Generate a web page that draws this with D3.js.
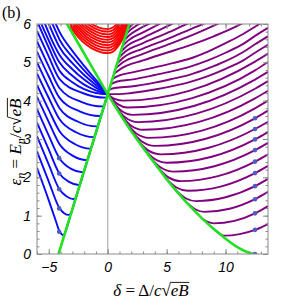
<!DOCTYPE html>
<html>
<head>
<meta charset="utf-8">
<script src="https://cdn.jsdelivr.net/npm/d3@7"></script>
<style>
  body { margin: 0; background: #fff; }
  svg { display: block; font-family: "Liberation Serif", "DejaVu Serif", serif; }
  .tick text { font-size: 14px; font-style: italic; fill: #000; }
</style>
</head>
<body>
<svg id="chart" width="291" height="301"></svg>
<script>
// axis ranges and tick labels
const xDomain = [-6, 13.6];
const yDomain = [0, 6];
const xTicks = [-5, 0, 5, 10];
const yTicks = [0, 1, 2, 3, 4, 5, 6];

// blue levels (left region), [delta, epsilon]
const blueLevels = [
  [[-6,2.25],[-5,1.4],[-4.4,0.86],[-4.1,0.6],[-3.92,0.52],[-3.75,0.49],[-3.6,0.57],[-3.2,0.97]],
  [[-6,2.68],[-5,1.89],[-4.1,1.2],[-3.7,1.065],[-3.3,1.02],[-3.12,1.06],[-2.95,1.22],[-2.6,1.57]],
  [[-6,3.07],[-5,2.33],[-4.1,1.69],[-3.48,1.5],[-2.85,1.43],[-2.68,1.49],[-2.5,1.67],[-2.2,1.97]],
  [[-6,3.43],[-5,2.72],[-4.1,2.1],[-3.28,1.88],[-2.45,1.8],[-2.32,1.85],[-2.1,2.07],[-1.8,2.37]],
  [[-6,3.78],[-5,3.09],[-4.1,2.5],[-3.1,2.22],[-2.1,2.13],[-1.98,2.19],[-1.75,2.42],[-1.45,2.72]],
  [[-6,4.1],[-5,3.44],[-4.1,2.87],[-2.95,2.56],[-1.8,2.45],[-1.68,2.49],[-1.45,2.72],[-1.15,3.02]],
  [[-6,4.41],[-5,3.76],[-4.1,3.21],[-2.8,2.87],[-1.5,2.75],[-1.38,2.79],[-1.15,3.02],[-0.85,3.32]],
  [[-6,4.71],[-5,4.07],[-4.1,3.52],[-2.65,3.17],[-1.2,3.05],[-1.08,3.09],[-0.85,3.32],[-0.55,3.62]],
  [[-6,5.0],[-5,4.35],[-4.1,3.81],[-2.51,3.45],[-0.92,3.33],[-0.8,3.37],[-0.6,3.57],[-0.3,3.87]],
  [[-6,5.28],[-5,4.63],[-4.1,4.08],[-2.38,3.72],[-0.65,3.6],[-0.53,3.64],[-0.35,3.82],[-0.1,4.07]],
  [[-6,5.55],[-5,4.89],[-4.1,4.33],[-2.25,3.97],[-0.4,3.85],[-0.28,3.89],[-0.1,4.07],[0,4.17]],
  [[-6,5.82],[-5,5.15],[-4.1,4.57],[-2.14,4.2],[-0.18,4.08],[-0.08,4.1],[0,4.17]],
  [[-6,6.08],[-5,5.38],[-4.1,4.79],[-3,4.48],[-2,4.3],[-1,4.2],[0,4.17]],
  [[-5.8,6.12],[-5,5.57],[-4.1,5.0],[-3,4.65],[-2,4.42],[-1,4.27],[0,4.17]],
  [[-5.5,6.14],[-4.8,5.62],[-4.1,5.2],[-3,4.82],[-2,4.55],[-1,4.34],[0,4.17]],
  [[-5.2,6.15],[-4.6,5.72],[-4.1,5.4],[-3,4.98],[-2,4.67],[-1,4.41],[0,4.17]],
  [[-4.9,6.15],[-4.5,5.87],[-4.1,5.6],[-3,5.14],[-2,4.79],[-1,4.48],[0,4.17]],
  [[-4.6,6.12],[-4.3,5.93],[-4.1,5.8],[-3,5.3],[-2,4.91],[-1,4.54],[0,4.17]]
];

// red levels (upper wedge)
const redLevels = [
  [[-3.2,5.93],[-2.5,5.66],[-1.8,5.46],[-1,5.31],[-0.4,5.25],[0.05,5.24],[0.5,5.29],[1,5.47],[1.5,5.77],[2,6.19]],
  [[-3.2,6.0],[-2.5,5.73],[-1.8,5.53],[-1,5.38],[-0.4,5.32],[0.05,5.31],[0.5,5.36],[1,5.54],[1.5,5.84],[2,6.26]],
  [[-3.2,6.07],[-2.5,5.8],[-1.8,5.6],[-1,5.45],[-0.4,5.39],[0.05,5.38],[0.5,5.43],[1,5.61],[1.5,5.91],[2,6.33]],
  [[-3.2,6.14],[-2.5,5.87],[-1.8,5.67],[-1,5.52],[-0.4,5.46],[0.05,5.45],[0.5,5.5],[1,5.68],[1.5,5.98],[2,6.4]],
  [[-3.2,6.21],[-2.5,5.94],[-1.8,5.74],[-1,5.59],[-0.4,5.53],[0.05,5.52],[0.5,5.57],[1,5.75],[1.5,6.05]],
  [[-2.5,6.01],[-1.8,5.81],[-1,5.66],[-0.4,5.6],[0.05,5.59],[0.5,5.64],[1,5.82],[1.5,6.12]],
  [[-2.5,6.08],[-1.8,5.88],[-1,5.73],[-0.4,5.67],[0.05,5.66],[0.5,5.71],[1,5.89],[1.5,6.19]],
  [[-2.5,6.15],[-1.8,5.95],[-1,5.8],[-0.4,5.74],[0.05,5.73],[0.5,5.78],[1,5.96],[1.5,6.26]],
  [[-1.8,6.02],[-1,5.87],[-0.4,5.81],[0.05,5.8],[0.5,5.85],[1,6.03]],
  [[-1.8,6.09],[-1,5.94],[-0.4,5.88],[0.05,5.87],[0.5,5.92],[1,6.1]]
];

// purple levels (right region)
const purpleLevels = [
  [[9.0,0.65],[9.5,0.53],[9.9,0.48],[11.2,0.52],[12.5,0.63],[13.6,0.78]],
  [[8.03,0.92],[8.5,0.835],[9.0,0.8],[10.75,0.865],[12.5,1.06],[13.6,1.25]],
  [[6.72,1.34],[7.46,1.16],[8.2,1.1],[10.35,1.18],[12.5,1.43],[13.6,1.62]],
  [[5.7,1.69],[6.6,1.455],[7.5,1.38],[10.0,1.48],[12.5,1.77],[13.6,1.96]],
  [[4.86,2.0],[5.83,1.735],[6.8,1.65],[9.65,1.765],[12.5,2.11],[13.6,2.3]],
  [[4.1,2.32],[5.15,2.0],[6.2,1.9],[9.35,2.03],[12.5,2.41],[13.6,2.6]],
  [[3.4,2.6],[4.5,2.255],[5.6,2.15],[9.05,2.29],[12.5,2.71],[13.6,2.9]],
  [[2.85,2.83],[3.93,2.49],[5.0,2.38],[8.75,2.53],[12.5,2.99],[13.6,3.18]],
  [[2.3,3.07],[3.4,2.71],[4.5,2.6],[8.5,2.765],[12.5,3.26],[13.6,3.45]],
  [[1.8,3.29],[2.9,2.935],[4.0,2.82],[8.25,3.0],[12.5,3.54],[13.6,3.74]],
  [[1.3,3.53],[2.4,3.15],[3.5,3.03],[8.0,3.22],[12.5,3.8],[13.6,4.0]],
  [[0.86,3.74],[1.93,3.36],[3.0,3.24],[7.75,3.445],[12.5,4.06],[13.6,4.26]],
  [[0.45,3.94],[1.5,3.56],[2.55,3.44],[7.52,3.66],[12.5,4.31],[13.6,4.51]],
  [[0.1,4.12],[1.1,3.75],[2.1,3.63],[7.3,3.86],[12.5,4.55],[13.6,4.75]],
  [[0,4.17],[0.85,3.91],[1.7,3.82],[7.1,4.06],[12.5,4.79],[13.6,5.01]],
  [[0,4.17],[0.65,4.04],[1.3,4.0],[6.9,4.255],[12.5,5.02],[13.6,5.23]],
  [[0,4.17],[1,4.17],[2,4.2],[4,4.29],[5.5,4.38],[7,4.49],[8.5,4.64],[10,4.83],[11.5,5.05],[12.5,5.25],[13.6,5.46]],
  [[0.12,4.29],[0.6,4.33],[2,4.37],[4,4.47],[5.5,4.57],[7,4.68],[8.5,4.84],[10,5.03],[11.5,5.27],[12.5,5.47],[13.6,5.68]],
  [[0.26,4.43],[0.8,4.5],[2,4.55],[4,4.67],[5.5,4.77],[7,4.89],[8.5,5.05],[10,5.25],[11.5,5.48],[12.5,5.69],[13.6,5.9]],
  [[0.4,4.57],[1,4.66],[2,4.73],[4,4.87],[5.5,4.98],[7,5.1],[8.5,5.28],[10,5.5],[11.5,5.74],[12.5,5.93],[13.6,6.14]],
  [[0.53,4.7],[1.2,4.85],[3,5.05],[5,5.25],[7,5.45],[9,5.68],[11,5.95],[11.5,6.03]],
  [[0.67,4.84],[1.3,5.0],[3,5.22],[5,5.45],[7,5.69],[9,5.96],[9.5,6.03]],
  [[0.8,4.97],[1.4,5.14],[3,5.36],[5,5.6],[7,5.86],[8,5.99],[8.5,6.06]],
  [[0.95,5.12],[1.5,5.28],[3,5.5],[5,5.76],[6.5,5.97],[7,6.04]],
  [[1.1,5.27],[1.6,5.42],[3,5.64],[4.5,5.86],[5.5,6.01]],
  [[1.25,5.42],[1.7,5.56],[3,5.78],[4,5.94],[4.5,6.02]],
  [[1.4,5.57],[1.8,5.7],[2.6,5.86],[3.4,5.99],[3.8,6.05]],
  [[1.55,5.72],[1.9,5.84],[2.4,5.95],[2.8,6.02]],
  [[1.7,5.87],[2.0,5.96],[2.2,6.02]]
];

// green boundaries
const greenLine = [[-4.17,0],[1.83,6]];
const greenCurve = [[-3.6,6.08],[-2,5.23],[-1,4.7],[0,4.17],[1,3.67],[2,3.2],[3,2.77],[4,2.36],
  [5,1.95],[6,1.58],[7,1.24],[8,0.93],[9,0.65],[10,0.4],[11,0.18],[12,0.03],[12.35,0]];

// semiclassical points
const blueDotsX = -4.12;
const blueDots = [0.58, 1.19, 1.69, 2.1, 2.5];
const purpleDotsX = 12.5;
const purpleDots = [0, 0.63, 1.06, 1.43, 1.77, 2.11, 2.41, 2.71, 2.99, 3.26, 3.54];

const margin = {top: 24, right: 23, bottom: 47, left: 37};
const width = 291 - margin.left - margin.right;
const height = 301 - margin.top - margin.bottom;

const svg = d3.select('#chart');
const x = d3.scaleLinear().domain(xDomain).range([0, width]);
const y = d3.scaleLinear().domain(yDomain).range([height, 0]);

const defs = svg.append('defs');
defs.append('clipPath').attr('id', 'plot-clip')
  .append('rect').attr('width', width).attr('height', height);

// wedge above both green boundaries, extended from their first segments
const cross = greenCurve[3];
const upR = [cross[0] + 3, cross[1] + 3 * (greenLine[1][1] - greenLine[0][1]) / (greenLine[1][0] - greenLine[0][0])];
const upL = [cross[0] - 6, cross[1] - 6 * (greenCurve[2][1] - greenCurve[3][1]) / (greenCurve[2][0] - greenCurve[3][0])];
defs.append('clipPath').attr('id', 'red-clip')
  .append('polygon')
  .attr('points', [cross, upR, [upR[0], 9], [upL[0], 9], upL].map(d => [x(d[0]), y(d[1])].join(',')).join(' '));

const g = svg.append('g').attr('transform', `translate(${margin.left},${margin.top})`);

// zero line
g.append('line')
  .attr('x1', x(0)).attr('x2', x(0)).attr('y1', 0).attr('y2', height)
  .attr('stroke', '#bdbdbd').attr('stroke-width', 1.4);

const plot = g.append('g').attr('clip-path', 'url(#plot-clip)');

const line = d3.line().x(d => x(d[0])).y(d => y(d[1])).curve(d3.curveMonotoneX);

plot.append('g').selectAll('path').data(blueLevels).join('path')
  .attr('d', line).attr('fill', 'none').attr('stroke', '#0a0aff').attr('stroke-width', 1.9);

plot.append('g').selectAll('path').data(purpleLevels).join('path')
  .attr('d', line).attr('fill', 'none').attr('stroke', '#800080').attr('stroke-width', 1.9);

plot.append('g').attr('clip-path', 'url(#red-clip)')
  .selectAll('path').data(redLevels).join('path')
  .attr('d', line).attr('fill', 'none').attr('stroke', '#ff0000').attr('stroke-width', 1.9);

plot.append('path').datum(greenCurve)
  .attr('d', line).attr('fill', 'none').attr('stroke', '#22e022').attr('stroke-width', 2.6);
plot.append('path').datum(greenLine)
  .attr('d', d3.line().x(d => x(d[0])).y(d => y(d[1])))
  .attr('fill', 'none').attr('stroke', '#22e022').attr('stroke-width', 2.6);

const dotColor = '#4f5cbf';
plot.append('g').selectAll('circle').data(blueDots).join('circle')
  .attr('cx', x(blueDotsX)).attr('cy', d => y(d)).attr('r', 2.3).attr('fill', dotColor);
plot.append('g').selectAll('circle').data(purpleDots).join('circle')
  .attr('cx', x(purpleDotsX)).attr('cy', d => y(d)).attr('r', 2.3).attr('fill', dotColor);

// frame with inward ticks
function styleAxis(sel) {
  sel.select('.domain').remove();
  sel.selectAll('.tick line').attr('stroke', '#8a8a8a');
}
const fmt = d3.format('d');
g.append('g').attr('transform', `translate(0,${height})`)
  .call(d3.axisBottom(x).ticks(20).tickSize(-2.5).tickFormat('')).call(styleAxis);
g.append('g').attr('transform', `translate(0,${height})`)
  .call(d3.axisBottom(x).tickValues(xTicks).tickSize(-5).tickPadding(8).tickFormat(fmt)).call(styleAxis);
g.append('g')
  .call(d3.axisTop(x).ticks(20).tickSize(-2.5).tickFormat('')).call(styleAxis);
g.append('g')
  .call(d3.axisTop(x).tickValues(xTicks).tickSize(-5).tickFormat('')).call(styleAxis);
g.append('g')
  .call(d3.axisLeft(y).ticks(30).tickSize(-2.5).tickFormat('')).call(styleAxis);
g.append('g')
  .call(d3.axisLeft(y).tickValues(yTicks).tickSize(-5).tickPadding(6).tickFormat(fmt)).call(styleAxis);
g.append('g').attr('transform', `translate(${width},0)`)
  .call(d3.axisRight(y).ticks(30).tickSize(-2.5).tickFormat('')).call(styleAxis);
g.append('g').attr('transform', `translate(${width},0)`)
  .call(d3.axisRight(y).tickValues(yTicks).tickSize(-5).tickFormat('')).call(styleAxis);

g.append('rect').attr('width', width).attr('height', height)
  .attr('fill', 'none').attr('stroke', '#8a8a8a').attr('stroke-width', 1);

// labels
svg.append('text').attr('x', 2).attr('y', 18).style('font-size', '16px').text('(b)');

function sqrtLabel(parent, parts, fs, anchorX, anchorY, overFrom, overTo) {
  const t = parent.append('text').attr('x', anchorX).attr('y', anchorY)
    .attr('text-anchor', 'middle').style('font-size', fs + 'px');
  parts.forEach(p => {
    const s = t.append('tspan').text(p.t);
    if (p.i) s.style('font-style', 'italic');
    if (p.sub) s.attr('dy', 4).style('font-size', (fs * 0.72) + 'px');
    if (p.up) s.attr('dy', -4);
  });
  const n = t.node();
  const x0 = n.getEndPositionOfChar(overFrom).x - 0.5;
  const x1 = n.getEndPositionOfChar(overTo).x + 0.5;
  parent.append('line').attr('x1', x0).attr('x2', x1)
    .attr('y1', anchorY - fs * 0.8).attr('y2', anchorY - fs * 0.8)
    .attr('stroke', '#000').attr('stroke-width', 0.9);
}

sqrtLabel(svg, [
  {t: 'δ', i: true}, {t: ' = Δ/'}, {t: 'c', i: true}, {t: '√'}, {t: 'eB', i: true}
], 17, 151, 296, 7, 9);

const yl = svg.append('g').attr('transform', 'translate(21,142) rotate(-90)');
sqrtLabel(yl, [
  {t: 'ε', i: true}, {t: 'n', i: true, sub: true}, {t: ' = ', up: true},
  {t: 'E', i: true}, {t: 'n', i: true, sub: true}, {t: '/', up: true}, {t: 'c', i: true},
  {t: '√'}, {t: 'eB', i: true}
], 17, 0, 0, 9, 11);
</script>
</body>
</html>
